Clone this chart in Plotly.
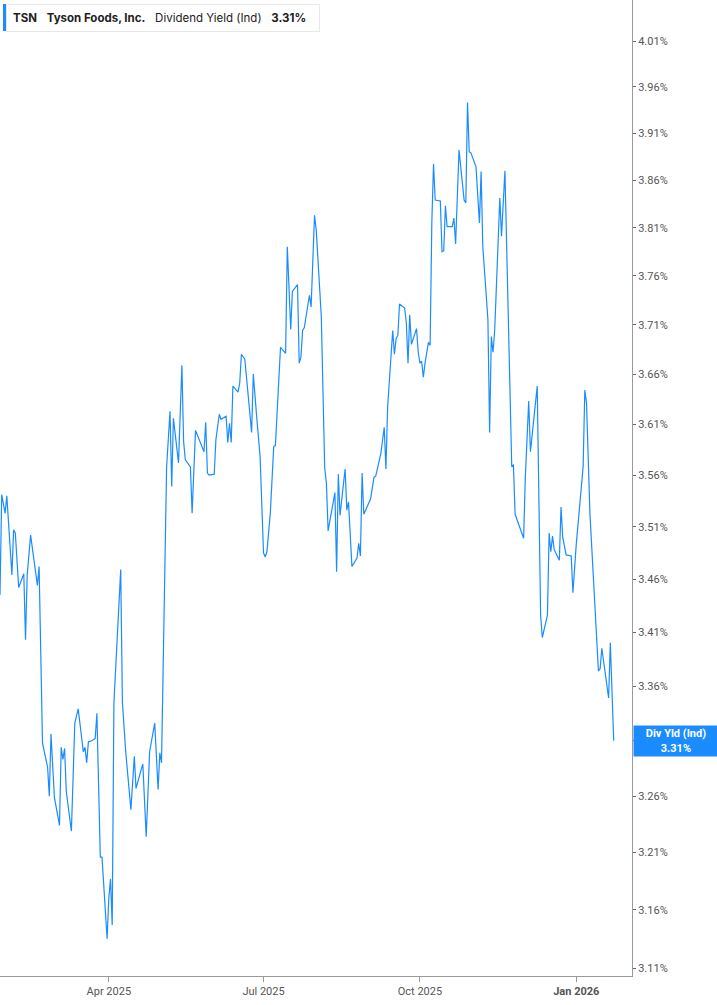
import math
import plotly.graph_objects as go

# Tyson Foods dividend yield
dates = [
    "2025-01-27", "2025-01-28", "2025-01-30", "2025-01-31", "2025-02-03", "2025-02-04",
    "2025-02-05", "2025-02-07", "2025-02-10", "2025-02-11", "2025-02-12", "2025-02-14",
    "2025-02-18", "2025-02-19", "2025-02-21", "2025-02-24", "2025-02-25", "2025-02-26",
    "2025-02-28", "2025-03-03", "2025-03-04", "2025-03-05", "2025-03-06", "2025-03-07",
    "2025-03-10", "2025-03-12", "2025-03-14", "2025-03-17", "2025-03-18", "2025-03-19",
    "2025-03-20", "2025-03-22", "2025-03-24", "2025-03-25", "2025-03-27", "2025-03-28",
    "2025-03-31", "2025-04-01", "2025-04-02", "2025-04-03", "2025-04-04", "2025-04-06",
    "2025-04-08", "2025-04-09", "2025-04-11", "2025-04-14", "2025-04-16", "2025-04-17",
    "2025-04-21", "2025-04-23", "2025-04-25", "2025-04-28", "2025-04-30", "2025-05-01",
    "2025-05-02", "2025-05-05", "2025-05-07", "2025-05-08", "2025-05-09", "2025-05-12",
    "2025-05-14", "2025-05-15", "2025-05-16", "2025-05-19", "2025-05-20", "2025-05-22",
    "2025-05-27", "2025-05-28", "2025-05-29", "2025-05-30", "2025-06-02", "2025-06-03",
    "2025-06-05", "2025-06-06", "2025-06-09", "2025-06-10", "2025-06-11", "2025-06-12",
    "2025-06-13", "2025-06-16", "2025-06-17", "2025-06-18", "2025-06-20", "2025-06-24",
    "2025-06-25", "2025-06-27", "2025-06-29", "2025-07-01", "2025-07-02", "2025-07-03",
    "2025-07-05", "2025-07-07", "2025-07-08", "2025-07-11", "2025-07-14", "2025-07-15",
    "2025-07-17", "2025-07-18", "2025-07-21", "2025-07-22", "2025-07-23", "2025-07-24",
    "2025-07-25", "2025-07-28", "2025-07-29", "2025-07-31", "2025-08-01", "2025-08-04",
    "2025-08-06", "2025-08-07", "2025-08-08", "2025-08-12", "2025-08-13", "2025-08-14",
    "2025-08-15", "2025-08-18", "2025-08-19", "2025-08-20", "2025-08-22", "2025-08-25",
    "2025-08-26", "2025-08-27", "2025-08-28", "2025-08-29", "2025-09-02", "2025-09-04",
    "2025-09-05", "2025-09-08", "2025-09-10", "2025-09-11", "2025-09-12", "2025-09-15",
    "2025-09-16", "2025-09-17", "2025-09-18", "2025-09-19", "2025-09-22", "2025-09-23",
    "2025-09-24", "2025-09-25", "2025-09-26", "2025-09-29", "2025-09-30", "2025-10-01",
    "2025-10-02", "2025-10-03", "2025-10-04", "2025-10-06", "2025-10-07", "2025-10-08",
    "2025-10-09", "2025-10-10", "2025-10-13", "2025-10-14", "2025-10-15", "2025-10-16",
    "2025-10-17", "2025-10-20", "2025-10-21", "2025-10-22", "2025-10-24", "2025-10-27",
    "2025-10-28", "2025-10-29", "2025-10-30", "2025-10-31", "2025-11-03", "2025-11-05",
    "2025-11-06", "2025-11-07", "2025-11-10", "2025-11-11", "2025-11-12", "2025-11-13",
    "2025-11-14", "2025-11-17", "2025-11-18", "2025-11-20", "2025-11-24", "2025-11-25",
    "2025-11-26", "2025-12-01", "2025-12-02", "2025-12-04", "2025-12-05", "2025-12-09",
    "2025-12-11", "2025-12-12", "2025-12-15", "2025-12-16", "2025-12-17", "2025-12-18",
    "2025-12-19", "2025-12-22", "2025-12-23", "2025-12-24", "2025-12-26", "2025-12-29",
    "2025-12-30", "2026-01-01", "2026-01-02", "2026-01-05", "2026-01-06", "2026-01-07",
    "2026-01-09", "2026-01-13", "2026-01-14", "2026-01-15", "2026-01-16", "2026-01-20",
    "2026-01-21", "2026-01-23",
]

div_yield = [
    3.445, 3.541, 3.523, 3.540, 3.464, 3.507, 3.504, 3.452, 3.465, 3.403, 3.464, 3.502,
    3.454, 3.472, 3.308, 3.286, 3.260, 3.316, 3.259, 3.234, 3.304, 3.293, 3.303, 3.264,
    3.229, 3.326, 3.339, 3.300, 3.304, 3.290, 3.309, 3.310, 3.312, 3.335, 3.206, 3.206,
    3.135, 3.170, 3.187, 3.147, 3.344, 3.403, 3.469, 3.345, 3.299, 3.248, 3.296, 3.267,
    3.289, 3.224, 3.300, 3.326, 3.266, 3.299, 3.290, 3.568, 3.623, 3.549, 3.616, 3.572,
    3.669, 3.593, 3.575, 3.568, 3.523, 3.604, 3.583, 3.612, 3.562, 3.560, 3.561, 3.595,
    3.620, 3.615, 3.618, 3.592, 3.611, 3.592, 3.648, 3.642, 3.651, 3.680, 3.675, 3.602,
    3.660, 3.617, 3.578, 3.485, 3.481, 3.486, 3.523, 3.588, 3.589, 3.687, 3.681, 3.790,
    3.705, 3.744, 3.751, 3.671, 3.677, 3.704, 3.707, 3.740, 3.728, 3.823, 3.808, 3.718,
    3.567, 3.552, 3.506, 3.543, 3.467, 3.561, 3.521, 3.566, 3.526, 3.534, 3.472, 3.480,
    3.494, 3.482, 3.562, 3.522, 3.537, 3.558, 3.559, 3.581, 3.607, 3.566, 3.627, 3.704,
    3.680, 3.696, 3.699, 3.731, 3.727, 3.712, 3.671, 3.720, 3.690, 3.706, 3.682, 3.671,
    3.673, 3.657, 3.671, 3.692, 3.689, 3.815, 3.877, 3.839, 3.838, 3.785, 3.786, 3.833,
    3.811, 3.811, 3.820, 3.793, 3.892, 3.839, 3.836, 3.943, 3.890, 3.889, 3.874, 3.815,
    3.869, 3.790, 3.715, 3.602, 3.698, 3.682, 3.705, 3.841, 3.801, 3.870, 3.569, 3.570,
    3.522, 3.499, 3.558, 3.633, 3.583, 3.648, 3.426, 3.405, 3.426, 3.504, 3.486, 3.501,
    3.488, 3.478, 3.529, 3.500, 3.483, 3.482, 3.447, 3.494, 3.514, 3.568, 3.644, 3.631,
    3.523, 3.396, 3.374, 3.376, 3.395, 3.349, 3.400, 3.310,
]

ytick_vals = [3.11, 3.16, 3.21, 3.26, 3.31, 3.36, 3.41, 3.46, 3.51, 3.56,
              3.61, 3.66, 3.71, 3.76, 3.81, 3.86, 3.91, 3.96, 4.01]
xtick_vals = ["2025-04-01", "2025-07-01", "2025-10-01", "2026-01-01"]
xtick_text = ["Apr 2025", "Jul 2025", "Oct 2025", "<b>Jan 2026</b>"]

blue = "#1a8cff"
axis_grey = "#9a9a9a"

fig = go.Figure()
fig.add_trace(go.Scatter(x=dates, y=div_yield, mode="lines",
                         line=dict(color=blue, width=1.2), hoverinfo="skip"))

fig.update_layout(
    width=717, height=1005,
    margin=dict(l=0, r=85, t=0, b=29),
    paper_bgcolor="white", plot_bgcolor="white",
    showlegend=False,
    font=dict(family="Inter, Roboto, sans-serif", color="#444"),
)

fig.update_xaxes(
    range=["2025-01-27", "2026-02-02 18:00"],
    tickvals=xtick_vals, ticktext=xtick_text,
    showgrid=False, zeroline=False,
    showline=True, linecolor=axis_grey, linewidth=1,
    ticks="outside", ticklen=5, tickcolor=axis_grey,
    tickfont=dict(family="Roboto, sans-serif", size=11, color="#555"),
)

fig.update_yaxes(
    type="log", side="right",
    range=[math.log10(3.1032), math.log10(4.0554)],
    tickvals=ytick_vals, ticktext=["%.2f%%" % v for v in ytick_vals],
    showgrid=False, zeroline=False,
    showline=True, linecolor=axis_grey, linewidth=1,
    ticks="outside", ticklen=3, tickcolor="#666",
    tickfont=dict(family="Roboto, sans-serif", size=11, color="#555"),
)

# header box in the top-left corner
fig.add_annotation(
    xref="paper", yref="paper", x=6 / 632, y=1 - 4 / 976,
    xanchor="left", yanchor="top", showarrow=False,
    text="<b>TSN</b>   <b>Tyson Foods, Inc.</b>   Dividend Yield (Ind)   <b>3.31%</b>  ",
    font=dict(family="Inter, sans-serif", size=11.5, color="#222"),
    bgcolor="white", bordercolor="#e8e8e8", borderwidth=1, borderpad=6,
)
fig.add_shape(type="rect", xref="paper", yref="paper",
              x0=3 / 632, x1=6 / 632, y0=1 - 31 / 976, y1=1 - 4 / 976,
              fillcolor=blue, line=dict(width=0))

# last value tag on the right axis
fig.add_annotation(
    xref="paper", yref="y", x=1.0015, y=math.log10(div_yield[-1]),
    xanchor="left", yanchor="middle", showarrow=False,
    text="<b>Div Yld (Ind)</b><br><b>%.2f%%</b>" % div_yield[-1],
    font=dict(family="Roboto, sans-serif", size=11, color="white"),
    bgcolor=blue, width=80, height=26, align="center", borderpad=2,
)

# drop the default page margin so the figure sits at the window corner
fig.write_html("out.html", config={"displayModeBar": False},
               post_script="document.body.style.margin='0';")
